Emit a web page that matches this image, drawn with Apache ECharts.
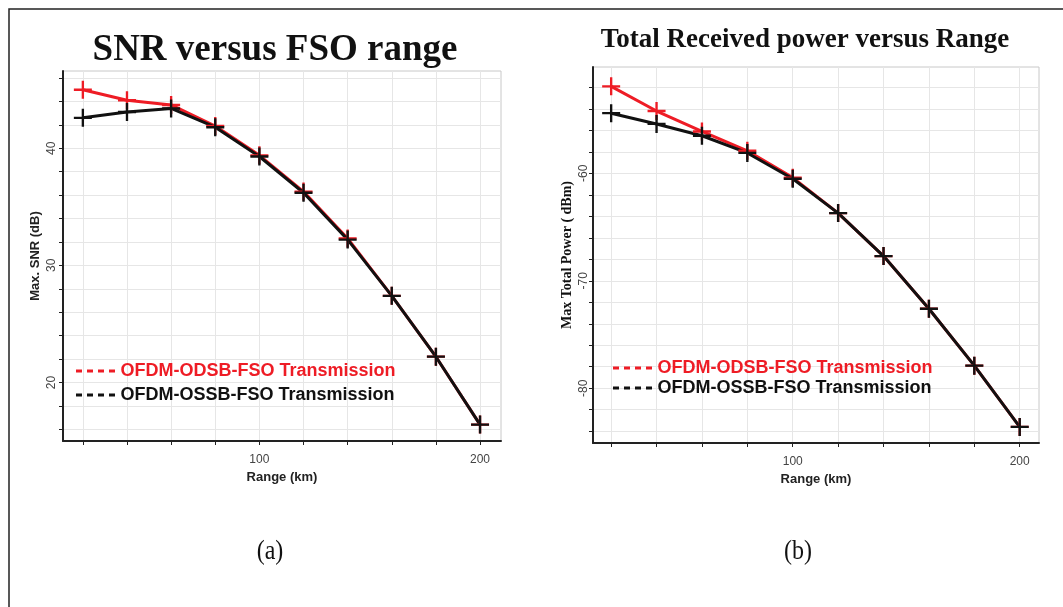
<!DOCTYPE html>
<html>
<head>
<meta charset="utf-8">
<script src="https://cdn.jsdelivr.net/npm/echarts@6/dist/echarts.min.js"></script>
<style>
html,body{margin:0;padding:0;background:#fff;}
#chart{width:1063px;height:607px;}
</style>
</head>
<body>
<div id="chart"></div>
<script>
// ---- data ----
const ranges = [20, 40, 60, 80, 100, 120, 140, 160, 180, 200];
const snrODSB = [45.0, 44.1, 43.7, 41.9, 39.4, 36.3, 32.3, 27.4, 22.2, 16.4];
const snrOSSB = [42.6, 43.1, 43.4, 41.8, 39.3, 36.2, 32.2, 27.4, 22.2, 16.4];
const powODSB = [-51.9, -54.2, -56.1, -57.9, -60.4, -63.7, -67.7, -72.6, -77.9, -83.6];
const powOSSB = [-54.4, -55.4, -56.5, -58.1, -60.5, -63.7, -67.7, -72.6, -77.9, -83.6];
const xTicks = [20, 40, 60, 80, 100, 120, 140, 160, 180, 200];
const xLabels = [100, 200];
const snrTicks = [16, 18, 20, 22, 24, 26, 28, 30, 32, 34, 36, 38, 40, 42, 44, 46];
const snrLabels = [20, 30, 40];
const powTicks = [-84, -82, -80, -78, -76, -74, -72, -70, -68, -66, -64, -62, -60, -58, -56, -54, -52];
const powLabels = [-80, -70, -60];
const seriesNames = ['OFDM-ODSB-FSO Transmission', 'OFDM-OSSB-FSO Transmission'];

const RED = '#ee1c25', BLACK = '#111111';
const plus = 'path://M8,0h2.4v8h8v2.4h-8v8h-2.4v-8h-8v-2.4h8z';
const dash = 'path://M0,0h6v3h-6z M11,0h6v3h-6z M22,0h6v3h-6z M33,0h6v3h-6z';

function pairs(xs, ys){ return xs.map((x,i)=>[x, ys[i]]); }

function xAxis(gi, min, max, nameGap){
  return {
    type:'value', gridIndex:gi, min:min, max:max,
    name:'Range (km)', nameLocation:'middle', nameGap:nameGap,
    nameTextStyle:{fontFamily:'Liberation Sans', fontWeight:'bold', fontSize:13, color:'#222'},
    axisLine:{show:true, onZero:false, lineStyle:{color:'#222', width:2}},
    axisTick:{show:true, customValues:xTicks, length:4, lineStyle:{color:'#222', width:1}},
    axisLabel:{customValues:xLabels, fontFamily:'Liberation Sans', fontSize:12, color:'#444', margin:13},
    splitLine:{show:true, lineStyle:{color:'#e6e6e6', width:1}}
  };
}
function yAxis(gi, min, max, ticks, labels, name, nameStyle, nameGap, labMargin){
  return {
    type:'value', gridIndex:gi, min:min, max:max,
    name:name, nameLocation:'middle', nameGap:nameGap, nameRotate:90,
    nameTextStyle:nameStyle,
    axisLine:{show:true, onZero:false, lineStyle:{color:'#222', width:2}},
    axisTick:{show:true, customValues:ticks, length:4, lineStyle:{color:'#222', width:1}},
    axisLabel:{customValues:labels, rotate:90, fontFamily:'Liberation Sans', fontSize:12, color:'#444', margin:labMargin},
    splitLine:{show:true, lineStyle:{color:'#e6e6e6', width:1}}
  };
}
function line(name, xi, data, color, w){
  return {
    name:name, type:'line', xAxisIndex:xi, yAxisIndex:xi, data:data,
    symbol:plus, symbolSize:18, showSymbol:true,
    lineStyle:{color:color, width:w}, itemStyle:{color:color},
    emphasis:{disabled:true}, animation:false
  };
}
function legend(left, top, lh, gap){
  return {
    orient:'vertical', left:left, top:top, itemWidth:40, itemHeight:3, itemGap:gap,
    padding:0, selectedMode:false,
    data:[
      {name:seriesNames[0], icon:dash, itemStyle:{color:RED}, textStyle:{color:RED}},
      {name:seriesNames[1], icon:dash, itemStyle:{color:BLACK}, textStyle:{color:BLACK}}
    ],
    textStyle:{fontFamily:'Liberation Sans', fontWeight:'bold', fontSize:18, lineHeight:lh, padding:[0,0,0,0]}
  };
}

const chart = echarts.init(document.getElementById('chart'), null, {renderer:'canvas'});
chart.setOption({
  animation:false,
  backgroundColor:'#fff',
  title:[
    {text:'SNR versus FSO range', left:270, top:27, textAlign:'center',
     textStyle:{fontFamily:'Liberation Serif', fontWeight:'bold', fontSize:37, color:'#111'}},
    {text:'Total Received power versus Range', left:800, top:22, textAlign:'center',
     textStyle:{fontFamily:'Liberation Serif', fontWeight:'bold', fontSize:27, color:'#111'}}
  ],
  grid:[
    {left:63, top:71, width:438, height:370, show:true, borderColor:'#c8c8c8', borderWidth:1, backgroundColor:'transparent'},
    {left:593, top:67, width:446, height:376, show:true, borderColor:'#c8c8c8', borderWidth:1, backgroundColor:'transparent'}
  ],
  xAxis:[xAxis(0, 11, 209.5, 30), xAxis(1, 12, 208.5, 30)],
  yAxis:[
    yAxis(0, 15, 46.6, snrTicks, snrLabels, 'Max. SNR (dB)',
      {fontFamily:'Liberation Sans', fontWeight:'bold', fontSize:13, color:'#222'}, 21, 5),
    yAxis(1, -85.1, -50.1, powTicks, powLabels, 'Max Total Power ( dBm)',
      {fontFamily:'Liberation Serif', fontWeight:'bold', fontSize:14, color:'#111'}, 19, 3)
  ],
  legend:[legend(76, 361, 20, 4), legend(613, 358, 20, 0)],
  series:[
    line(seriesNames[0], 0, pairs(ranges, snrODSB), RED, 3),
    line(seriesNames[1], 0, pairs(ranges, snrOSSB), BLACK, 3),
    line(seriesNames[0], 1, pairs(ranges, powODSB), RED, 3),
    line(seriesNames[1], 1, pairs(ranges, powOSSB), BLACK, 3)
  ],
  graphic:[
    {type:'rect', shape:{x:9, y:9, width:1070, height:610}, style:{fill:'none', stroke:'#222', lineWidth:1.5}, silent:true},
    {type:'text', x:270, y:552, scaleY:1.15, style:{text:'(a)', font:'24px "Liberation Serif"', fill:'#111', textAlign:'center', textVerticalAlign:'middle'}},
    {type:'text', x:798, y:552, scaleY:1.15, style:{text:'(b)', font:'24px "Liberation Serif"', fill:'#111', textAlign:'center', textVerticalAlign:'middle'}}
  ]
});
</script>
</body>
</html>
